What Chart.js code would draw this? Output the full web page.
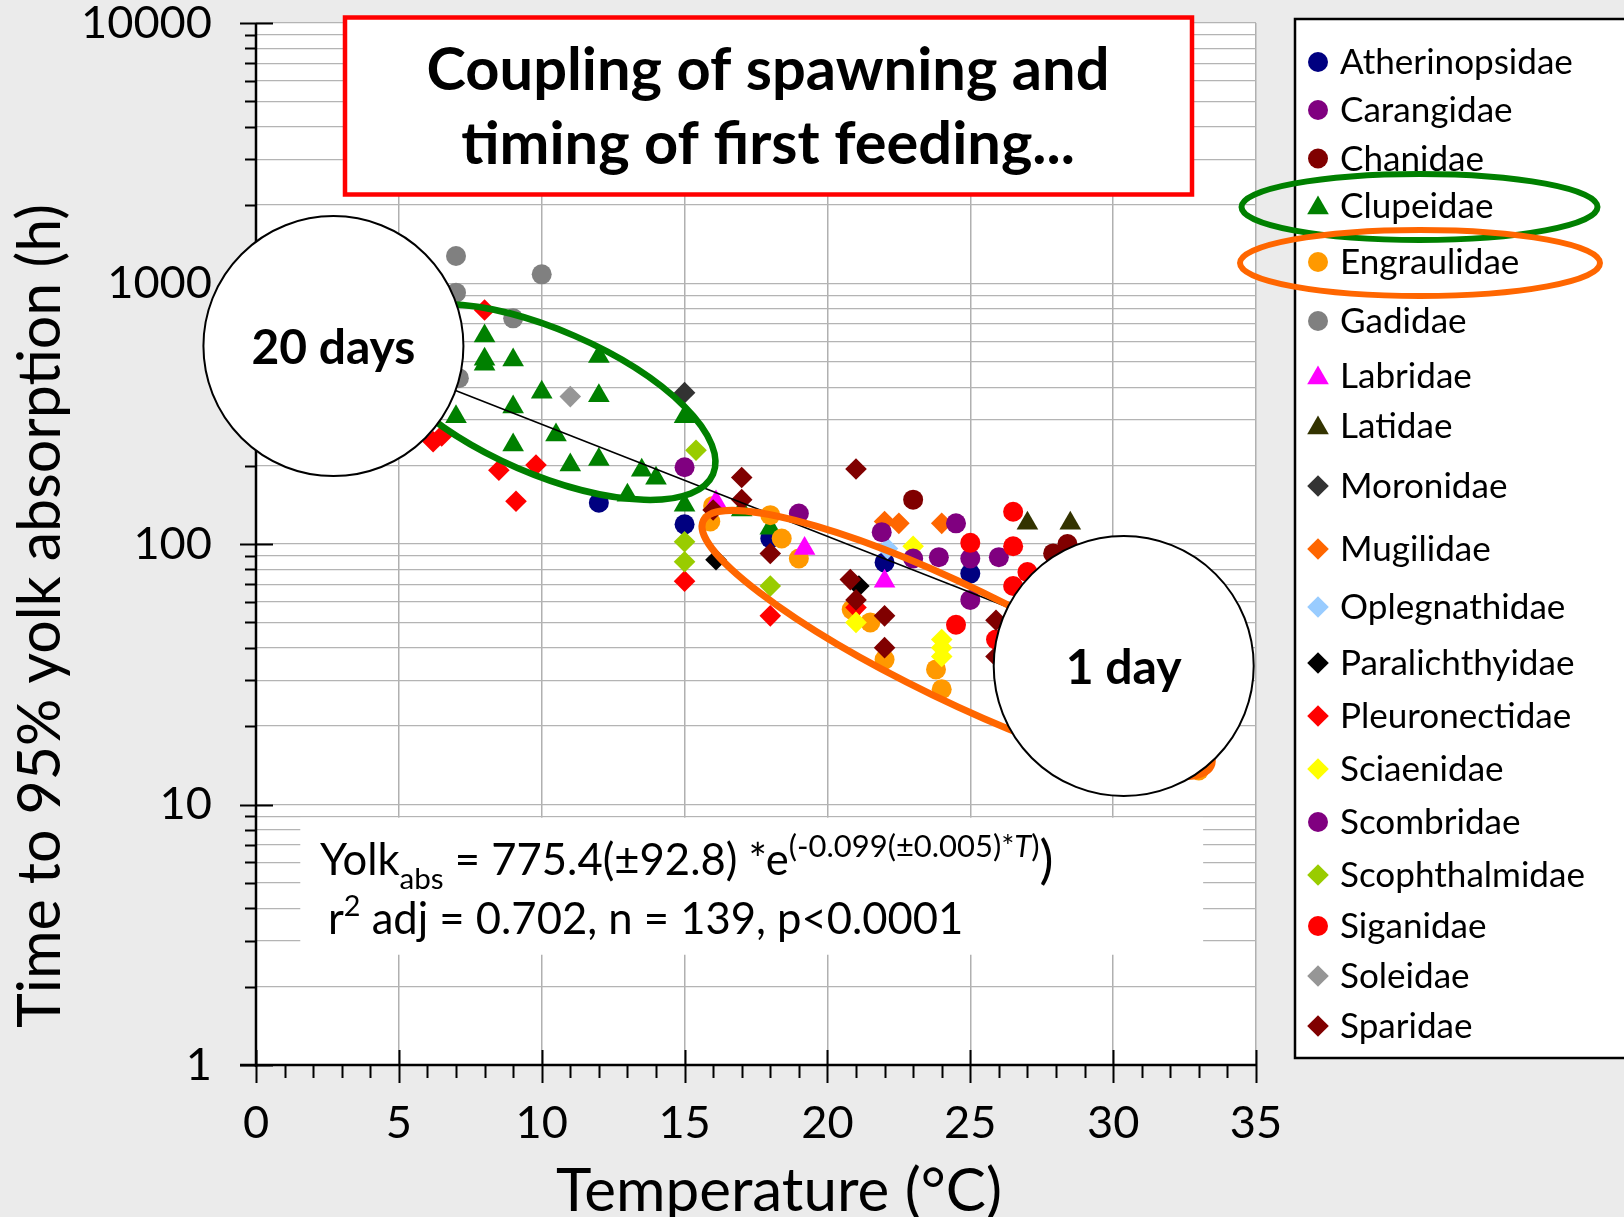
<!DOCTYPE html>
<html lang="en">
<head>
<meta charset="UTF-8">
<title>Yolk absorption and temperature</title>
<script src="https://cdn.jsdelivr.net/npm/chart.js@4.4.1/dist/chart.umd.min.js"></script>
<style>
  html, body { margin: 0; padding: 0; background: #ebebeb; }
  canvas { display: block; }
</style>
</head>
<body>
<canvas id="myChart" width="1624" height="1217"></canvas>
<script>
// [temperature (°C), time to 95% yolk absorption (h)] per family
const atherinopsidae = [[12,144],[15,119],[18,105],[22,85],[25,77]];
const carangidae = [[15,197]];
const chanidae = [[23,148],[27.9,92],[28.4,100]];
const clupeidae = [[8,629],[8,512],[8,490],[9,508],[12,524],[10,382],[12,371],[9,336],[7,308],[15,308],
                   [10.5,262],[9,240],[11,201],[12,211],[13.5,192],[14,179],[13,154],[15,141],[17,135],[18,115]];
const engraulidae = [[16,140],[15.9,122],[18,129],[18.4,105],[19,88],[20.85,56],[21.5,50],[22,36],[23.8,33],[24,27.7],[33,13.5]];
const gadidae = [[7,1275],[10,1084],[7,922],[9,735],[7.1,433]];
const labridae = [[16.1,145],[19.2,96],[22,72]];
const latidae = [[27,120],[28.5,120]];
const moronidae = [[15,381]];
const mugilidae = [[22,122],[22.5,120],[24,120]];
const oplegnathidae = [[22.1,96]];
const paralichthyidae = [[16.1,87],[21.1,69]];
const pleuronectidae = [[8,791],[6.2,247],[6.5,260],[8.5,192],[9.8,201],[9.1,146],[15,72],[18,53],[21,57]];
const sciaenidae = [[23,98],[21,50],[24,43],[24,40],[24,37]];
const scombridae = [[19,131],[21.9,111],[23,88],[23.9,89],[24.5,120],[25,88],[26,89],[25,61]];
const scophthalmidae = [[15.4,229],[15,102],[15,85.5],[18,69]];
const siganidae = [[26.5,133],[25,101],[26.5,98],[27,78],[26.5,69],[24.5,49],[25.9,43]];
const soleidae = [[11,368]];
const sparidae = [[17,180],[17,148],[16,135],[18,92],[21,194],[20.8,73],[21,61],[22,53],[22,40],[25.9,51],[25.9,37]];

const familyNames = ['Atherinopsidae','Carangidae','Chanidae','Clupeidae','Engraulidae','Gadidae','Labridae',
  'Latidae','Moronidae','Mugilidae','Oplegnathidae','Paralichthyidae','Pleuronectidae','Sciaenidae',
  'Scombridae','Scophthalmidae','Siganidae','Soleidae','Sparidae'];
const familyData = [atherinopsidae, carangidae, chanidae, clupeidae, engraulidae, gadidae, labridae,
  latidae, moronidae, mugilidae, oplegnathidae, paralichthyidae, pleuronectidae, sciaenidae,
  scombridae, scophthalmidae, siganidae, soleidae, sparidae];

const xTicks = [0, 5, 10, 15, 20, 25, 30, 35];
const yTickLabels = [1, 10, 100, 1000, 10000];

// exponential fit: Yolk_abs = a * e^(b*T)
const fitA = 775.4;
const fitB = -0.099;
const fitRange = [6, 33];

// marker styles
const familyColors = ['#000080','#800080','#800000','#008000','#ff9900','#808080','#ff00ff',
  '#333300','#333333','#ff6600','#99ccff','#000000','#ff0000','#ffff00',
  '#800080','#99cc00','#ff0000','#969696','#800000'];
const familyShapes = ['circle','circle','circle','triangle','circle','circle','triangle',
  'triangle','rectRot','rectRot','rectRot','rectRot','rectRot','rectRot',
  'circle','rectRot','circle','rectRot','rectRot'];
const markerSize = { circle: 10, triangle: 12.5, rectRot: 10.8 };

const SANS = "'Lato', 'Open Sans', sans-serif";
function fitFont(text, width, weight) {
  const c = document.createElement('canvas').getContext('2d');
  c.font = weight + ' 100px ' + SANS;
  return 100 * width / c.measureText(text).width;
}

const tickSize = fitFont('10000', 131, 'normal');
const titleSize = fitFont('Coupling of spawning and', 683, 'bold');
const legendSize = fitFont('Scophthalmidae', 245, 'normal');
const xTitleSize = fitFont('Temperature (°C)', 446, 'normal');
const yTitleSize = fitFont('Time to 95% yolk absorption (h)', 824, 'normal');
const eqSize = fitFont('r  adj = 0.702, n = 139, p<0.0001', 630, 'normal');

const legendRowY = [62,110,158.5,206,262,321,376,426,486,549,607,663,716,769,822,875,926,976,1026];

function shapePath(ctx, shape, x, y, r) {
  ctx.beginPath();
  if (shape === 'circle') {
    ctx.arc(x, y, r, 0, Math.PI * 2);
  } else if (shape === 'triangle') {
    ctx.moveTo(x, y - r);
    ctx.lineTo(x + r * Math.sqrt(3) / 2, y + r / 2);
    ctx.lineTo(x - r * Math.sqrt(3) / 2, y + r / 2);
  } else {
    ctx.moveTo(x, y - r); ctx.lineTo(x + r, y); ctx.lineTo(x, y + r); ctx.lineTo(x - r, y);
  }
  ctx.closePath();
}

function ellipse(ctx, x, y, rx, ry, deg, color, lw) {
  ctx.save();
  ctx.beginPath();
  ctx.ellipse(x, y, rx, ry, deg * Math.PI / 180, 0, Math.PI * 2);
  ctx.strokeStyle = color; ctx.lineWidth = lw; ctx.stroke();
  ctx.restore();
}

function bubble(ctx, x, y, r, text, width) {
  ctx.save();
  ctx.beginPath();
  ctx.arc(x, y, r, 0, Math.PI * 2);
  ctx.fillStyle = '#fff'; ctx.fill();
  ctx.strokeStyle = '#000'; ctx.lineWidth = 2; ctx.stroke();
  ctx.fillStyle = '#000';
  ctx.font = 'bold ' + fitFont(text, width, 'bold') + 'px ' + SANS;
  ctx.textAlign = 'center'; ctx.textBaseline = 'middle';
  ctx.fillText(text, x, y + 2);
  ctx.restore();
}

// draws a run of text pieces with sub/superscripts
function richText(ctx, pieces, x, baseline, size) {
  ctx.textAlign = 'left'; ctx.textBaseline = 'alphabetic';
  for (const p of pieces) {
    const s = size * (p.k || 1);
    ctx.font = (p.italic ? 'italic ' : '') + s + 'px ' + SANS;
    ctx.fillText(p.t, x, baseline + (p.dy || 0) * size);
    x += ctx.measureText(p.t).width;
  }
}

const decor = {
  id: 'decor',
  beforeDraw(chart) {
    const { ctx, chartArea: a } = chart;
    ctx.save();
    ctx.fillStyle = '#ebebeb'; ctx.fillRect(0, 0, chart.width, chart.height);
    ctx.fillStyle = '#fff'; ctx.fillRect(a.left, a.top, a.right - a.left, a.bottom - a.top);
    ctx.restore();
  },
  beforeDatasetsDraw(chart) {
    const { ctx, chartArea: a, scales: { x, y } } = chart;
    ctx.save();
    // panel behind the equation
    const ex0 = x.getPixelForValue(1.55), ex1 = x.getPixelForValue(33.15);
    const ey0 = y.getPixelForValue(8.9), ey1 = y.getPixelForValue(2.65);
    ctx.fillStyle = '#fff';
    ctx.fillRect(ex0, ey0, ex1 - ex0, ey1 - ey0);

    // title box
    ctx.fillStyle = '#fff';
    ctx.fillRect(345, 17.5, 847, 177);
    ctx.strokeStyle = '#ff0000'; ctx.lineWidth = 4.5;
    ctx.strokeRect(345, 17.5, 847, 177);

    // axes with major/minor ticks
    ctx.strokeStyle = '#000';
    ctx.lineWidth = 2;
    ctx.beginPath();
    for (let e = 0; e < 4; e++) {
      for (let m = 2; m < 10; m++) {
        const py = Math.round(y.getPixelForValue(m * 10 ** e)) + 0.5;
        ctx.moveTo(a.left - 11, py); ctx.lineTo(a.left, py);
      }
    }
    for (const v of yTickLabels) {
      const py = Math.round(y.getPixelForValue(v)) + 0.5;
      ctx.moveTo(a.left - 16, py); ctx.lineTo(a.left + 17, py);
    }
    for (let t = 0; t <= 35; t++) {
      const px = Math.round(x.getPixelForValue(t)) + 0.5;
      if (t % 5 === 0) { ctx.moveTo(px, a.bottom - 15); ctx.lineTo(px, a.bottom + 18); }
      else { ctx.moveTo(px, a.bottom); ctx.lineTo(px, a.bottom + 13); }
    }
    ctx.stroke();
    ctx.lineWidth = 2.5;
    ctx.beginPath();
    ctx.moveTo(a.left, a.top); ctx.lineTo(a.left, a.bottom + 2);
    ctx.moveTo(a.left - 16, a.bottom); ctx.lineTo(a.right, a.bottom);
    ctx.stroke();
    ctx.restore();
  },
  afterDatasetsDraw(chart) {
    const { ctx, scales: { x, y } } = chart;
    ctx.save();
    // highlighted groups
    ellipse(ctx, x.getPixelForValue(10.15), y.getPixelForValue(351), 182, 72, 23.4, '#008000', 6.5);
    ellipse(ctx, x.getPixelForValue(24.54), y.getPixelForValue(41.5), 282, 57, 25.8, '#ff6600', 7);

    // duration callouts
    bubble(ctx, x.getPixelForValue(2.71), y.getPixelForValue(575), 130, '20 days', 164);
    bubble(ctx, x.getPixelForValue(30.37), y.getPixelForValue(34), 130, '1 day', 116);

    // chart title
    ctx.fillStyle = '#000';
    ctx.textAlign = 'center'; ctx.textBaseline = 'middle';
    ctx.font = 'bold ' + titleSize + 'px ' + SANS;
    ctx.fillText('Coupling of spawning and', 768, 71);
    ctx.fillText('timing of first feeding...', 768, 145);

    // axis titles
    ctx.font = xTitleSize + 'px ' + SANS;
    ctx.fillText('Temperature (°C)', 779, 1192);
    ctx.save();
    ctx.translate(41, 616);
    ctx.rotate(-Math.PI / 2);
    ctx.font = yTitleSize + 'px ' + SANS;
    ctx.fillText('Time to 95% yolk absorption (h)', 0, 0);
    ctx.restore();

    // fit equation
    richText(ctx, [
      { t: 'Yolk' }, { t: 'abs', k: 0.68, dy: 0.32 },
      { t: ' = ' + fitA + '(±92.8) *e' },
      { t: '(' + fitB + '(±0.005)*', k: 0.71, dy: -0.42 },
      { t: 'T', k: 0.71, dy: -0.42, italic: true },
      { t: ')', k: 0.71, dy: -0.42 },
      { t: ')', k: 1.2, dy: 0.08 }
    ], 320, 875, eqSize);
    richText(ctx, [
      { t: 'r' }, { t: '2', k: 0.66, dy: -0.42 },
      { t: ' adj = 0.702, n = 139, p<0.0001' }
    ], 328, 934, eqSize);

    // legend
    ctx.fillStyle = '#fff';
    ctx.fillRect(1295, 19, 340, 1039);
    ctx.strokeStyle = '#000'; ctx.lineWidth = 2.5;
    ctx.strokeRect(1295, 19, 340, 1039);
    ctx.font = legendSize + 'px ' + SANS;
    ctx.textAlign = 'left'; ctx.textBaseline = 'middle';
    familyNames.forEach((name, i) => {
      const ly = legendRowY[i];
      const shape = familyShapes[i];
      ctx.fillStyle = familyColors[i];
      shapePath(ctx, shape, 1318, shape === 'triangle' ? ly + 2 : ly, markerSize[shape]);
      ctx.fill();
      ctx.fillStyle = '#000';
      ctx.fillText(name, 1340, ly + 1);
    });
    ellipse(ctx, 1419.5, 207, 178, 33, 0, '#008000', 6);
    ellipse(ctx, 1420, 263, 180, 33, 0, '#ff6600', 6);
    ctx.restore();
  }
};

const datasets = familyNames.map((name, i) => ({
  label: name,
  data: familyData[i].map(p => ({ x: p[0], y: p[1] })),
  pointStyle: familyShapes[i],
  pointRadius: markerSize[familyShapes[i]],
  pointHoverRadius: markerSize[familyShapes[i]],
  backgroundColor: familyColors[i],
  borderWidth: 0,
  order: -i
}));

datasets.push({
  type: 'line',
  label: 'fit',
  data: fitRange.map(t => ({ x: t, y: fitA * Math.exp(fitB * t) })),
  borderColor: '#000',
  borderWidth: 1.6,
  pointRadius: 0,
  fill: false,
  order: -100
});

const tickFont = { family: SANS, size: tickSize };

new Chart(document.getElementById('myChart').getContext('2d'), {
  type: 'scatter',
  data: { datasets },
  options: {
    responsive: false,
    animation: false,
    devicePixelRatio: 1,
    layout: { padding: { left: 0, right: 368, top: 23, bottom: 0 } },
    plugins: { legend: { display: false }, tooltip: { enabled: false } },
    scales: {
      x: {
        type: 'linear', min: 0, max: 35,
        afterBuildTicks(s) { s.ticks = xTicks.map(v => ({ value: v })); },
        afterFit(s) { s.height = 152; s.paddingLeft = 0; s.paddingRight = 0; },
        ticks: { font: tickFont, color: '#000', padding: 31, maxRotation: 0, autoSkip: false },
        grid: { color: '#b0b0b0', lineWidth: 1.5, drawTicks: false },
        border: { display: false }
      },
      y: {
        type: 'logarithmic', min: 1, max: 10000,
        afterBuildTicks(s) {
          const t = [];
          for (let e = 0; e < 4; e++) for (let m = 1; m < 10; m++) t.push({ value: m * 10 ** e });
          t.push({ value: 10000 });
          s.ticks = t;
        },
        afterFit(s) { s.width = 256; s.paddingTop = 0; s.paddingBottom = 0; },
        ticks: {
          font: tickFont, color: '#000', padding: 44, autoSkip: false,
          callback: v => yTickLabels.includes(v) ? String(v) : ''
        },
        grid: { color: '#b4b4b4', lineWidth: 1.3, drawTicks: false },
        border: { display: false }
      }
    }
  },
  plugins: [decor]
});
</script>
</body>
</html>
